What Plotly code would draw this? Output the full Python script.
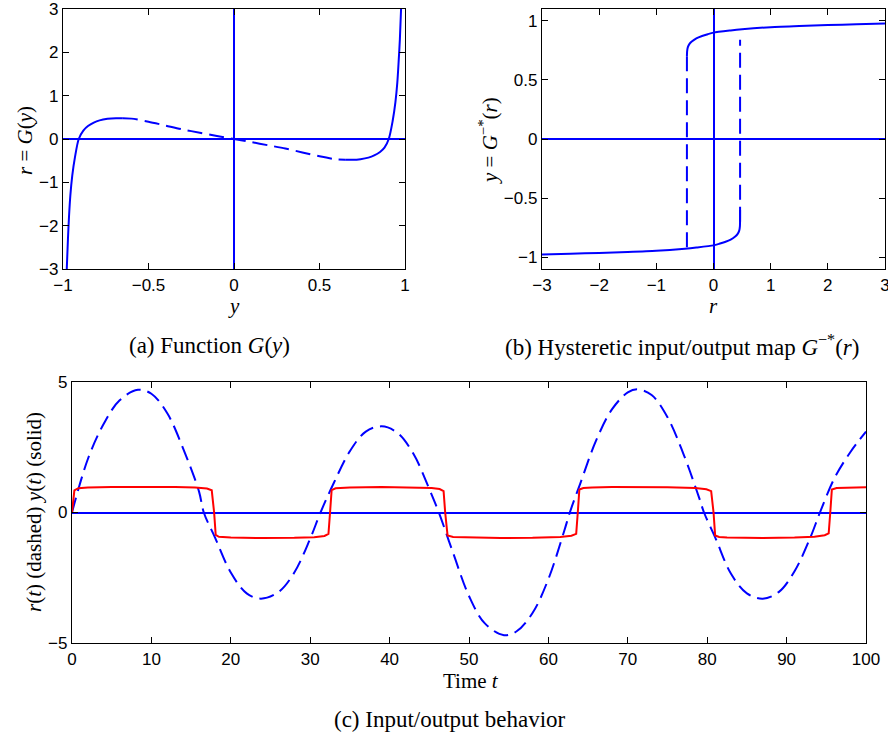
import plotly.graph_objects as go

# ---------------- (a) Function G(y) ----------------
ga_left_y = [-0.978, -0.971, -0.965, -0.957, -0.946, -0.930, -0.908, -0.880, -0.854, -0.820, -0.786, -0.740, -0.690, -0.650]
ga_left_r = [-3.0, -2.3, -1.8, -1.3, -0.85, -0.42, 0.0, 0.20, 0.30, 0.38, 0.43, 0.465, 0.48, 0.478]

ga_mid_y = [-0.650, -0.600, -0.500, -0.400, -0.300, -0.200, -0.100, 0.000, 0.100, 0.200, 0.300, 0.400, 0.500, 0.600, 0.650]
ga_mid_r = [0.478, 0.470, 0.400, 0.310, 0.220, 0.145, 0.070, 0.000, -0.070, -0.145, -0.220, -0.310, -0.400, -0.470, -0.478]

ga_right_y = [0.650, 0.690, 0.740, 0.786, 0.820, 0.854, 0.880, 0.905, 0.928, 0.944, 0.955, 0.963, 0.970, 0.977]
ga_right_r = [-0.478, -0.48, -0.465, -0.43, -0.38, -0.30, -0.20, 0.0, 0.42, 0.85, 1.3, 1.8, 2.3, 3.0]

a_xticks = [-1, -0.5, 0, 0.5, 1]
a_xticktext = ["\u22121", "\u22120.5", "0", "0.5", "1"]
a_yticks = [-3, -2, -1, 0, 1, 2, 3]
a_yticktext = ["\u22123", "\u22122", "\u22121", "0", "1", "2", "3"]

# ---------------- (b) Hysteretic map G^{-*}(r) ----------------
hb_up_r = [-0.465, -0.462, -0.450, -0.420, -0.380, -0.300, -0.200, -0.100, 0.000, 0.300, 0.500, 1.000, 1.500, 2.000, 2.500, 3.000]
hb_up_y = [0.700, 0.740, 0.775, 0.805, 0.825, 0.852, 0.872, 0.887, 0.900, 0.918, 0.928, 0.946, 0.956, 0.964, 0.971, 0.977]

hb_lo_r = [-3.000, -2.500, -2.000, -1.500, -1.000, -0.500, -0.300, 0.000, 0.100, 0.200, 0.300, 0.380, 0.420, 0.450, 0.462, 0.465]
hb_lo_y = [-0.977, -0.971, -0.964, -0.956, -0.946, -0.928, -0.918, -0.900, -0.887, -0.872, -0.852, -0.825, -0.805, -0.775, -0.740, -0.600]

hb_jump_left_r = [-0.465, -0.465]
hb_jump_left_y = [0.700, -0.930]
hb_jump_right_r = [0.465, 0.465]
hb_jump_right_y = [-0.700, 0.840]

b_xticks = [-3, -2, -1, 0, 1, 2, 3]
b_xticktext = ["\u22123", "\u22122", "\u22121", "0", "1", "2", "3"]
b_yticks = [-1, -0.5, 0, 0.5, 1]
b_yticktext = ["\u22121", "\u22120.5", "0", "0.5", "1"]

# ---------------- (c) Input/output behaviour ----------------
rc_t = [0, 2, 4, 6, 8.3, 10, 12, 14, 16, 16.6,
        18, 20, 22, 23.8, 26, 28, 30, 31.3,
        33, 35, 37, 39, 41, 43, 45, 46.2,
        48, 50, 52, 54.4, 56, 58, 60, 62, 62.7,
        64, 66, 68, 70, 71.2, 73, 75, 77, 79, 79.6,
        81, 83, 85, 87, 89, 91, 93, 94.2,
        96, 98, 100]
rc_r = [0.0, 2.05, 3.4, 4.3, 4.7, 4.55, 3.8, 2.45, 0.8, 0.0,
        -0.95, -2.3, -3.1, -3.3, -3.05, -2.3, -1.0, 0.0,
        1.15, 2.35, 3.1, 3.3, 3.05, 2.25, 0.9, 0.0,
        -1.55, -3.2, -4.25, -4.7, -4.55, -3.85, -2.55, -0.7, 0.0,
        1.1, 2.75, 3.95, 4.6, 4.72, 4.5, 3.65, 2.25, 0.55, 0.0,
        -0.95, -2.35, -3.1, -3.3, -3.05, -2.25, -0.95, 0.0,
        1.3, 2.3, 3.1]

yc_t = [0, 0.3, 0.8, 2, 5, 8, 13, 15.5, 17, 17.6, 17.9, 18.1, 18.5, 20, 24, 28, 30.5, 31.8, 32.3,
        32.5, 32.7, 33.2, 35, 39, 43, 45.3, 46.3, 46.8, 47.0, 47.3, 48, 51, 54, 58, 61.5, 62.9, 63.5,
        63.7, 63.9, 64.4, 65.5, 68, 71, 75, 78.5, 79.9, 80.5, 80.8, 81.0, 81.5, 82.5, 84, 87, 91, 93.5,
        94.8, 95.3, 95.5, 95.7, 96.3, 98, 100]
yc_y = [0.0, 0.85, 0.93, 0.96, 0.975, 0.98, 0.975, 0.955, 0.92, 0.85, 0.0, -0.86, -0.93, -0.96, -0.98, -0.97, -0.945, -0.90, -0.82,
        0.0, 0.86, 0.93, 0.96, 0.975, 0.96, 0.935, 0.90, 0.82, 0.0, -0.88, -0.94, -0.97, -0.98, -0.97, -0.935, -0.89, -0.82,
        0.0, 0.88, 0.94, 0.96, 0.975, 0.98, 0.97, 0.935, 0.89, 0.82, 0.0, -0.88, -0.94, -0.96, -0.97, -0.975, -0.96, -0.925,
        -0.87, -0.8, 0.0, 0.88, 0.94, 0.96, 0.97]

c_xticks = [0, 10, 20, 30, 40, 50, 60, 70, 80, 90, 100]
c_yticks = [-5, 0, 5]
c_yticktext = ["\u22125", "0", "5"]

BLUE = "#0000ff"
RED = "#ff0000"
DASH = "15px,7px"
W = 2

fig = go.Figure()

# (a)
fig.add_trace(go.Scatter(x=ga_left_y, y=ga_left_r, mode="lines", line=dict(color=BLUE, width=W, shape="spline", smoothing=0.8), xaxis="x", yaxis="y"))
fig.add_trace(go.Scatter(x=ga_mid_y, y=ga_mid_r, mode="lines", line=dict(color=BLUE, width=W, dash=DASH, shape="spline", smoothing=0.8), xaxis="x", yaxis="y"))
fig.add_trace(go.Scatter(x=ga_right_y, y=ga_right_r, mode="lines", line=dict(color=BLUE, width=W, shape="spline", smoothing=0.8), xaxis="x", yaxis="y"))

# (b)
fig.add_trace(go.Scatter(x=hb_up_r, y=hb_up_y, mode="lines", line=dict(color=BLUE, width=W, shape="spline", smoothing=0.6), xaxis="x2", yaxis="y2"))
fig.add_trace(go.Scatter(x=hb_lo_r, y=hb_lo_y, mode="lines", line=dict(color=BLUE, width=W, shape="spline", smoothing=0.6), xaxis="x2", yaxis="y2"))
fig.add_trace(go.Scatter(x=hb_jump_left_r, y=hb_jump_left_y, mode="lines", line=dict(color=BLUE, width=W, dash=DASH), xaxis="x2", yaxis="y2"))
fig.add_trace(go.Scatter(x=hb_jump_right_r, y=hb_jump_right_y, mode="lines", line=dict(color=BLUE, width=W, dash=DASH), xaxis="x2", yaxis="y2"))

# (c)
fig.add_trace(go.Scatter(x=rc_t, y=rc_r, mode="lines", line=dict(color=BLUE, width=W, dash=DASH, shape="spline", smoothing=1.0), xaxis="x3", yaxis="y3"))
fig.add_trace(go.Scatter(x=yc_t, y=yc_y, mode="lines", line=dict(color=RED, width=W), xaxis="x3", yaxis="y3"))

TICKFONT = dict(family="Liberation Sans, Arial, sans-serif", size=17, color="black")


def ax(domain, rng, tickvals, ticktext, anchor, zeroline=True):
    return dict(domain=domain, range=rng, tickvals=tickvals, ticktext=ticktext, anchor=anchor,
                showline=True, linecolor="black", linewidth=1.2, mirror="ticks",
                ticks="inside", ticklen=6, tickwidth=1, tickcolor="black",
                showgrid=False, zeroline=zeroline, zerolinecolor=BLUE, zerolinewidth=2,
                tickfont=TICKFONT, fixedrange=True, automargin=False,
                ticklabeloverflow="allow")


def dom_x(p0, p1):
    return [p0 / 888.0, p1 / 888.0]


def dom_y(top, bottom):
    return [1 - bottom / 736.0, 1 - top / 736.0]


fig.update_layout(
    width=888, height=736,
    margin=dict(l=0, r=0, t=0, b=0, pad=0, autoexpand=False),
    paper_bgcolor="white", plot_bgcolor="white",
    showlegend=False,
    xaxis=ax(dom_x(63, 405), [-1, 1], a_xticks, a_xticktext, "y"),
    yaxis=ax(dom_y(9, 269), [-3, 3], a_yticks, a_yticktext, "x"),
    xaxis2=ax(dom_x(542, 885), [-3, 3], b_xticks, b_xticktext, "y2"),
    yaxis2=ax(dom_y(9, 269), [-1.1, 1.1], b_yticks, b_yticktext, "x2"),
    xaxis3=ax(dom_x(72, 866), [0, 100], c_xticks, [str(v) for v in c_xticks], "y3", zeroline=False),
    yaxis3=ax(dom_y(382, 643), [-5, 5], c_yticks, c_yticktext, "x3"),
)

SERIF = "Liberation Serif, Times New Roman, serif"


def ann(text, px, py, size, angle=0):
    return dict(text=text, x=px / 888.0, y=1 - py / 736.0, xref="paper", yref="paper",
                xanchor="center", yanchor="middle", showarrow=False, textangle=angle,
                font=dict(family=SERIF, size=size, color="black"))


annotations = [
    ann("<i>y</i>", 234, 306, 21),
    ann("<i>r</i> = <i>G</i>(<i>y</i>)", 25, 141, 21, -90),
    ann("(a) Function <i>G</i>(<i>y</i>)", 209, 346, 23),
    ann("<i>r</i>", 713, 306, 21),
    ann("<i>y</i> = <i>G</i><sup>\u2212*</sup>(<i>r</i>)", 488, 141, 21, -90),
    ann("(b) Hysteretic input/output map <i>G</i><sup>\u2212*</sup>(<i>r</i>)", 682, 346, 23),
    ann("Time <i>t</i>", 471, 681, 21),
    ann("<i>r</i>(<i>t</i>) (dashed) <i>y</i>(<i>t</i>) (solid)", 34, 512, 21, -90),
    ann("(c) Input/output behavior", 450, 719, 23),
]
fig.update_layout(annotations=annotations)

fig.write_html("out.html", config={"displayModeBar": False, "staticPlot": True},
               post_script="document.body.style.margin='0px';document.body.style.overflow='hidden';")
